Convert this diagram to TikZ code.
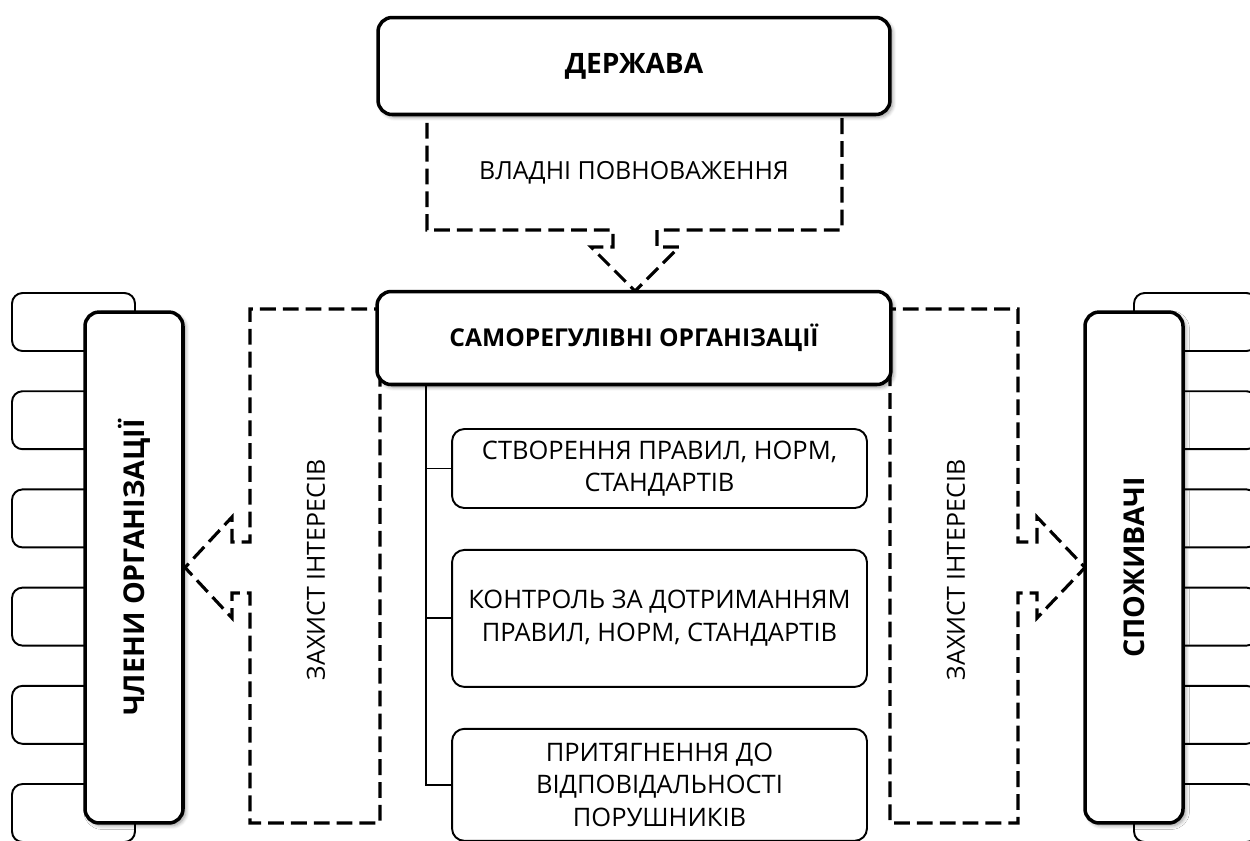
\documentclass[tikz,border=0pt]{standalone}
\usepackage{fontspec}
\setmainfont{Open Sans}
\usetikzlibrary{positioning, shadows.blur}

\tikzset{
  mainbox/.style={draw, line width=2pt, rounded corners=8pt, fill=white,
    font=\fontsize{14}{18}\selectfont\bfseries,
    blur shadow={shadow blur steps=6, shadow xshift=1.5pt, shadow yshift=-1.5pt}},
  sidebox/.style={mainbox, rotate=90, minimum width=10.22cm, minimum height=1.96cm,
    font=\fontsize{16.3}{20}\selectfont\bfseries},
  taskbox/.style={draw, line width=1.1pt, rounded corners=7pt, fill=white,
    align=center, minimum width=8.3cm, font=\fontsize{14.5}{18.6}\selectfont},
  stubbox/.style={draw, line width=1.1pt, rounded corners=6pt, fill=white,
    minimum width=2.46cm, minimum height=1.16cm},
  callout/.style={draw, line width=1.8pt, dash pattern=on 9pt off 4pt},
  calltext/.style={font=\fontsize{14.2}{18.6}\selectfont},
}

\begin{document}
\begin{tikzpicture}[x=0.02cm, y=-0.02cm]
  \useasboundingbox (0,0) rectangle (1250,840);

  % small boxes behind the side columns
  \foreach \i in {0,...,5} {
    \node[stubbox] (memb\i) at (73.5, {322+98.2*\i}) {};
    \node[stubbox] (cons\i) at (1195.5, {322+98.2*\i}) {};
  }

  % dashed callouts
  \draw[callout] (427,100) -- (427,230) -- (613,230) -- (613,247) -- (591,247)
    -- (635,291) -- (679,247) -- (657,247) -- (657,230) -- (842,230) -- (842,100);
  \draw[callout] (390,309) -- (250,309) -- (250,542) -- (232,542) -- (232,517)
    -- (185,567.5) -- (232,618) -- (232,593) -- (250,593) -- (250,823)
    -- (380,823) -- (380,370);
  \draw[callout] (880,309) -- (1018,309) -- (1018,542) -- (1037,542) -- (1037,517)
    -- (1085,567.5) -- (1037,618) -- (1037,593) -- (1018,593) -- (1018,823)
    -- (890,823) -- (890,370);
  \node[calltext] (powers) at (634,173) {ВЛАДНІ ПОВНОВАЖЕННЯ};
  \node[calltext, rotate=90] (protmemb) at (316,570) {ЗАХИСТ ІНТЕРЕСІВ};
  \node[calltext, rotate=90] (protcons) at (956,570) {ЗАХИСТ ІНТЕРЕСІВ};

  % main boxes
  \node[mainbox, minimum width=10.24cm, minimum height=1.94cm,
    font=\fontsize{16}{18}\selectfont\bfseries] (state) at (634,66) {ДЕРЖАВА};
  \node[mainbox, minimum width=10.28cm, minimum height=1.86cm] (sro) at (634,338) {САМОРЕГУЛІВНІ ОРГАНІЗАЦІЇ};
  \node[sidebox] (members) at (134,567.5) {ЧЛЕНИ ОРГАНІЗАЦІЇ};
  \node[sidebox] (consumers) at (1134,567.5) {СПОЖИВАЧІ};

  % functions
  \node[taskbox, minimum height=1.58cm] (rules) at (659.5,468.5) {СТВОРЕННЯ ПРАВИЛ, НОРМ,\\СТАНДАРТІВ};
  \node[taskbox, minimum height=2.74cm, below=0.8cm of rules] (control) {КОНТРОЛЬ ЗА ДОТРИМАННЯМ\\ПРАВИЛ, НОРМ, СТАНДАРТІВ};
  \node[taskbox, minimum height=2.24cm, below=0.8cm of control] (liability) {ПРИТЯГНЕННЯ ДО\\ВІДПОВІДАЛЬНОСТІ\\ПОРУШНИКІВ};

  \draw[line width=1.1pt] (sro.south west) ++(51,0) coordinate (spine) |- (liability.west);
  \draw[line width=1.1pt] (spine |- rules.west) -- (rules.west);
  \draw[line width=1.1pt] (spine |- control.west) -- (control.west);
\end{tikzpicture}
\end{document}
